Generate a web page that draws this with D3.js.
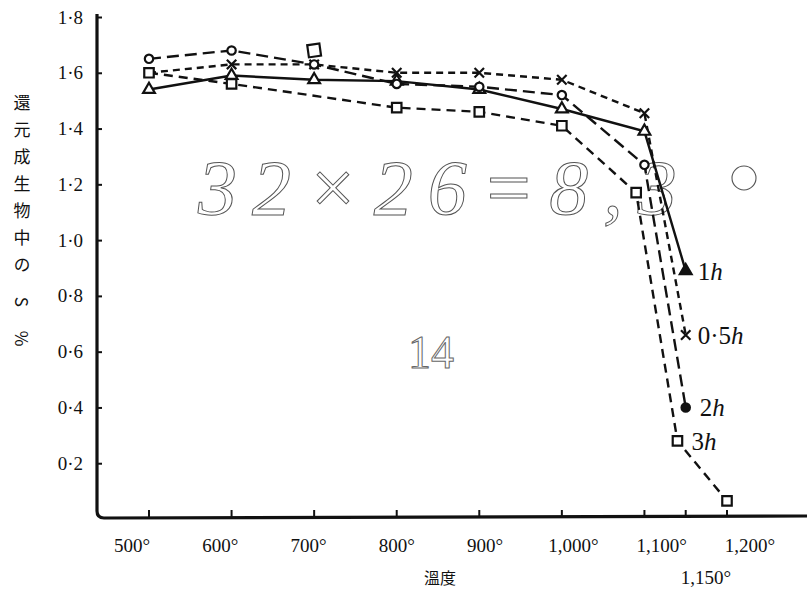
<!DOCTYPE html>
<html>
<head>
<meta charset="utf-8">
<script src="https://cdn.jsdelivr.net/npm/d3@7"></script>
<style>
  body { margin: 0; background: #fff; }
  svg { display: block; }
</style>
</head>
<body>
<svg width="807" height="592"></svg>
<script>
// temperatures (deg C) and S % for each reduction time
var temps = [500, 600, 700, 800, 900, 1000, 1100, 1150];
var s05h = [1.60, 1.63, 1.63, 1.60, 1.60, 1.575, 1.455, 0.66];
var s1h = [1.54, 1.59, 1.575, 1.57, 1.54, 1.47, 1.39, 0.89];
var s2h = [1.65, 1.68, 1.63, 1.56, 1.55, 1.52, 1.27, 0.40];
var temps3h = [500, 600, 800, 900, 1000, 1090, 1140, 1200];
var s3h = [1.60, 1.56, 1.475, 1.46, 1.41, 1.17, 0.28, 0.065];
var strayTemps = [700];
var strayS = [1.68];

var yTicks = [0.2, 0.4, 0.6, 0.8, 1.0, 1.2, 1.4, 1.6, 1.8];
var yTickLabels = ["0·2", "0·4", "0·6", "0·8", "1·0", "1·2", "1·4", "1·6", "1·8"];
var xTicks = [500, 600, 700, 800, 900, 1000, 1100, 1150, 1200];
var xTickLabels = ["500°", "600°", "700°", "800°", "900°", "1,000°", "1,100°", "1,150°", "1,200°"];

var serif = "'Liberation Serif','DejaVu Serif',serif";
var cjk = "'Noto Sans CJK JP','Noto Sans CJK SC',sans-serif";

var svg = d3.select("svg");

var x = d3.scaleLinear().domain([500, 1200]).range([149, 727]);
var y = d3.scaleLinear().domain([0, 1.8]).range([519, 17]);
// the printed tick labels sit on a slightly wider spacing than the ticks
var xLab = d3.scaleLinear().domain([500, 1200]).range([132, 750]);

// stray handwriting on the scan
svg.append("text")
	.attr("x", 198).attr("y", 214)
	.attr("font-family", serif)
	.attr("font-style", "italic")
	.attr("font-size", 78)
	.attr("letter-spacing", 15)
	.attr("fill", "none")
	.attr("stroke", "#555")
	.attr("stroke-width", 1)
	.text("32×26=8,3");
svg.append("circle")
	.attr("cx", 744).attr("cy", 178).attr("r", 12)
	.attr("fill", "none").attr("stroke", "#555").attr("stroke-width", 1.1);
svg.append("text")
	.attr("x", 408).attr("y", 368)
	.attr("font-family", serif)
	.attr("font-size", 46)
	.attr("fill", "none")
	.attr("stroke", "#666")
	.attr("stroke-width", 1)
	.text("14");

// axes
var yAxis = d3.axisLeft(y).tickValues(yTicks).tickSize(0)
	.tickFormat(function(d, i) { return yTickLabels[i]; });
var gy = svg.append("g").attr("transform", "translate(96,0)").call(yAxis);
gy.select(".domain").remove();
gy.selectAll("text")
	.attr("x", -13)
	.attr("font-family", serif)
	.attr("font-size", 19)
	.attr("fill", "#111");
gy.selectAll(".tick").append("line")
	.attr("x1", 0).attr("x2", 6)
	.attr("stroke", "#111").attr("stroke-width", 2);

svg.append("path")
	.attr("d", "M97,14 L97,511 Q97,518 104,518 L807,516")
	.attr("fill", "none")
	.attr("stroke", "#111")
	.attr("stroke-width", 3.2);

var gx = svg.append("g");
gx.selectAll("line").data(xTicks).enter().append("line")
	.attr("x1", function(d) { return x(d); })
	.attr("x2", function(d) { return x(d); })
	.attr("y1", 517).attr("y2", 510)
	.attr("stroke", "#111").attr("stroke-width", 2);
gx.selectAll("text").data(xTicks).enter().append("text")
	.attr("x", function(d) { return xLab(d); })
	.attr("y", function(d) { return d === 1150 ? 584 : 552; })
	.attr("text-anchor", "middle")
	.attr("font-family", serif)
	.attr("font-size", 19)
	.attr("fill", "#111")
	.text(function(d, i) { return xTickLabels[i]; });

// axis titles
svg.append("text")
	.attr("x", 440).attr("y", 584)
	.attr("text-anchor", "middle")
	.attr("font-family", cjk)
	.attr("font-size", 16)
	.attr("fill", "#111")
	.text("溫度");
svg.append("text")
	.attr("x", 22).attr("y", 94)
	.attr("font-family", cjk)
	.attr("font-size", 17)
	.attr("fill", "#111")
	.style("writing-mode", "vertical-rl")
	.attr("letter-spacing", 10)
	.text("還元成生物中の S %");

// series
var series = [
	{ name: "0·5h", t: temps, v: s05h, dash: "7,5", sym: d3.symbolTimes || d3.symbolCross, size: 60, fillLast: true },
	{ name: "1h", t: temps, v: s1h, dash: null, sym: d3.symbolTriangle, size: 60, fillLast: true },
	{ name: "2h", t: temps, v: s2h, dash: "12,6", sym: d3.symbolCircle, size: 55, fillLast: true },
	{ name: "3h", t: temps3h, v: s3h, dash: "9,6", sym: d3.symbolSquare, size: 90, fillLast: false }
];

var line = d3.line()
	.x(function(d) { return x(d[0]); })
	.y(function(d) { return y(d[1]); });

series.forEach(function(s) {
	var pts = s.t.map(function(t, i) { return [t, s.v[i]]; });
	svg.append("path")
		.datum(pts)
		.attr("d", line)
		.attr("fill", "none")
		.attr("stroke", "#111")
		.attr("stroke-width", 2.4)
		.attr("stroke-dasharray", s.dash);
	svg.selectAll(null).data(pts).enter().append("path")
		.attr("transform", function(d) { return "translate(" + x(d[0]) + "," + y(d[1]) + ")"; })
		.attr("d", d3.symbol().type(s.sym).size(s.size))
		.attr("fill", function(d, i) {
			if (s.sym === d3.symbolTimes) return "none";
			return (s.fillLast && i === pts.length - 1) ? "#111" : "#fff";
		})
		.attr("stroke", "#111")
		.attr("stroke-width", 2.2);
});

// lone square near 700 deg
svg.selectAll(null).data(strayTemps).enter().append("path")
	.attr("transform", function(d, i) { return "translate(" + x(d) + "," + y(strayS[i]) + ") rotate(-8)"; })
	.attr("d", d3.symbol().type(d3.symbolSquare).size(150))
	.attr("fill", "#fff").attr("stroke", "#111").attr("stroke-width", 2.2);

// end labels
var endLabels = [
	{ name: "1h", v: s1h[7], t: 1150, dx: 12 },
	{ name: "0·5h", v: s05h[7], t: 1150, dx: 12 },
	{ name: "2h", v: s2h[7], t: 1150, dx: 14 },
	{ name: "3h", v: s3h[6], t: 1140, dx: 14 }
];
var lab = svg.selectAll(".endlab").data(endLabels).enter().append("text")
	.attr("class", "endlab")
	.attr("x", function(d) { return x(d.t) + d.dx; })
	.attr("y", function(d) { return y(d.v) + 9; })
	.attr("font-family", serif)
	.attr("font-size", 25)
	.attr("fill", "#111");
lab.append("tspan").text(function(d) { return d.name.slice(0, -1); });
lab.append("tspan").attr("font-style", "italic").text("h");
</script>
</body>
</html>
